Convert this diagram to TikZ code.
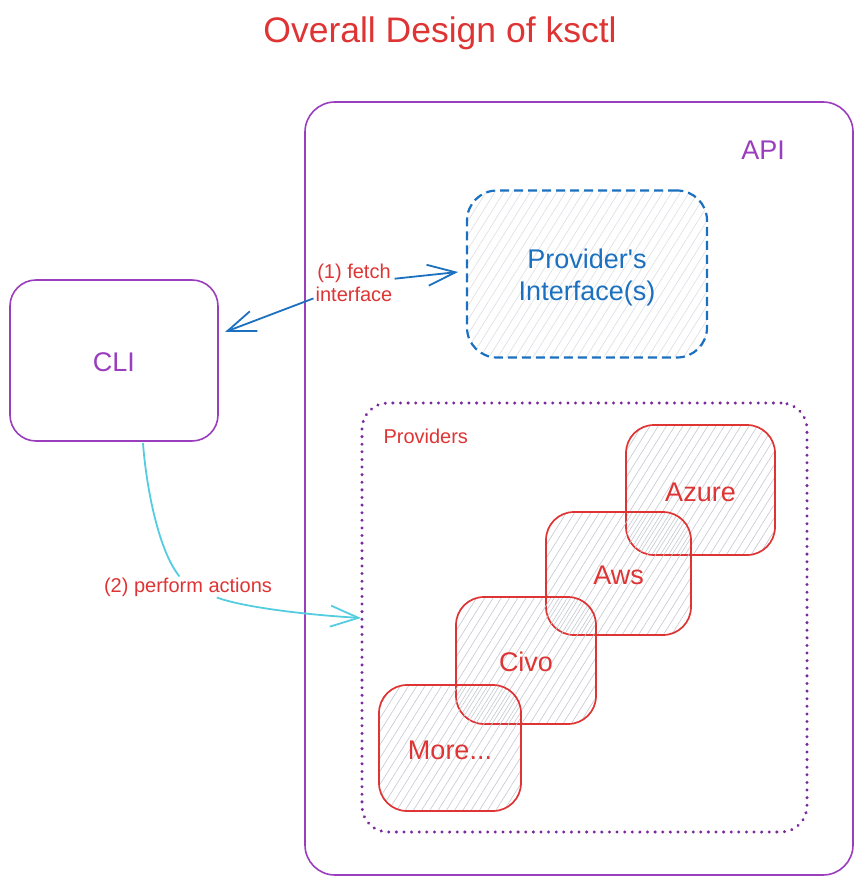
\documentclass[tikz,border=0pt]{standalone}
\usepackage{fontspec}
\setmainfont{Liberation Sans}
\usetikzlibrary{arrows.meta,patterns.meta}
\newcommand{\straightquote}{\XeTeXglyph\the\XeTeXcharglyph"0027\relax}
\definecolor{tred}{RGB}{222,52,52}
\definecolor{apipurple}{RGB}{155,62,190}
\definecolor{dotpurple}{RGB}{122,40,155}
\definecolor{piblue}{RGB}{28,112,192}
\definecolor{cyanline}{RGB}{85,205,225}
\definecolor{hatchA}{RGB}{196,199,208}
\definecolor{hatchB}{RGB}{218,221,226}
\tikzset{
  bigtext/.style={font=\fontsize{27}{32}\selectfont},
  smalltext/.style={font=\fontsize{20}{23}\selectfont, text=tred, align=center},
  apibox/.style={draw=apipurple, line width=1.6pt, rounded corners=30pt, minimum width=548pt, minimum height=773pt, inner sep=0pt},
  clibox/.style={draw=apipurple, line width=1.6pt, rounded corners=26pt, minimum width=208pt, minimum height=161pt, inner sep=0pt},
  pibox/.style={draw=piblue, line width=2.2pt, dash pattern=on 9pt off 5pt, rounded corners=30pt, minimum width=240pt, minimum height=167pt, inner sep=0pt,
     pattern={Lines[angle=58,distance=7.5pt,line width=0.6pt]}, pattern color=hatchB},
  provbox/.style={draw=dotpurple, line width=3.3pt, dash pattern=on 0.01pt off 7.6pt, line cap=round, rounded corners=26pt, minimum width=445pt, minimum height=429pt, inner sep=0pt},
  cloudbox/.style={draw=tred, line width=1.7pt, rounded corners=28pt, inner sep=0pt, pattern color=hatchA},
  hatchone/.style={pattern={Lines[angle=58,distance=7pt,line width=0.6pt]}},
  hatchtwo/.style={pattern={Lines[angle=58,distance=7pt,line width=0.6pt,xshift=3.5pt]}},
  bluecon/.style={draw=piblue, line width=1.8pt},
  cyancon/.style={draw=cyanline, line width=1.8pt},
  barbtip/.style={-{Straight Barb[length=28pt,width=21pt]}},
}
\begin{document}
\begin{tikzpicture}[x=1pt,y=-1pt]
\useasboundingbox (0,0) rectangle (863,885);

\node[font=\fontsize{35.5}{40}\selectfont, text=tred] (title) at (440,33) {Overall Design of ksctl};

\node[apibox] (api) at (579,488.5) {};
\node[bigtext, text=apipurple] (apilabel) at (763,150) {API};

\node[pibox, label={[bigtext, text=piblue, align=center, yshift=-4pt]center:Provider\straightquote s\\Interface(s)}] (pi) at (587,274) {};

\node[clibox, label={[bigtext, text=apipurple, yshift=-2pt]center:CLI}] (cli) at (114,360.5) {};

\node[provbox] (prov) at (584.5,617.5) {};
\node[smalltext, anchor=west] (provlabel) at (380,436) {Providers};

\node[cloudbox, hatchone, minimum width=149pt, minimum height=130pt, label={[bigtext, text=tred, yshift=-2pt]center:Azure}] (azure) at (700.5,490) {};
\node[cloudbox, hatchtwo, minimum width=145pt, minimum height=123pt, label={[bigtext, text=tred, yshift=-2pt]center:Aws}] (aws) at (618.5,573.5) {};
\node[cloudbox, hatchone, minimum width=140pt, minimum height=127pt, label={[bigtext, text=tred, yshift=-1pt]center:Civo}] (civo) at (526,660.5) {};
\node[cloudbox, hatchtwo, minimum width=142pt, minimum height=126pt, label={[bigtext, text=tred, yshift=-2pt]center:More...}] (more) at (450,748) {};

% connector (1)
\node[smalltext, inner sep=2pt] (fetch) at (354,283) {(1) fetch\\interface};
\coordinate (f1) at (225,332);
\coordinate (f2) at (458,272);
\draw[bluecon, barbtip] (fetch) -- (f1);
\draw[bluecon, barbtip] (fetch) -- (f2);

% connector (2)
\node[smalltext, inner sep=1pt] (perform) at (188,587) {(2) perform actions};
\coordinate (c0) at (143,443);
\coordinate (c1) at (361,618);
\draw[cyancon] (c0) .. controls (146,485) and (158,550) .. (perform);
\draw[cyancon, barbtip] (perform) .. controls (240,606) and (295,614) .. (c1);
\end{tikzpicture}
\end{document}
